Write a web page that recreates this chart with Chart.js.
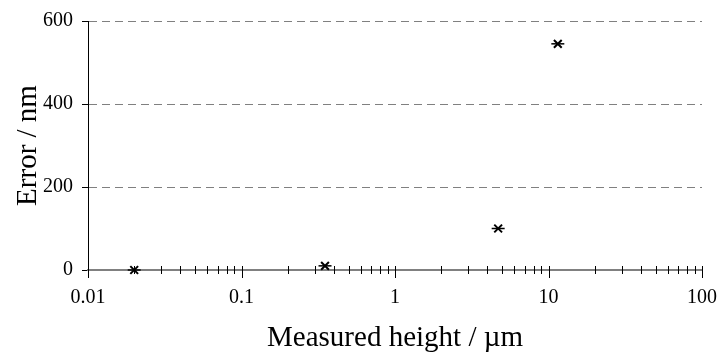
<!DOCTYPE html>
<html>
<head>
<meta charset="utf-8">
<script src="https://cdn.jsdelivr.net/npm/chart.js@4/dist/chart.umd.min.js"></script>
<style>
    html, body { margin: 0; padding: 0; background: #fff; }
    #wrap { width: 719px; height: 354px; }
</style>
</head>
<body>
<div id="wrap"><canvas id="errorChart" width="719" height="354"></canvas></div>
<script>
// data
const heights = [0.02, 0.35, 4.7, 11.5];   // measured height, µm
const errors = [0, 10, 100, 545];         // error, nm
const xMajorTicks = [0.01, 0.1, 1, 10, 100];
const yTicks = [0, 200, 400, 600];

const FONT = "'Liberation Serif', 'Times New Roman', serif";

const points = heights.map((h, i) => ({ x: h, y: errors[i] }));

// x axis: gray line with tick marks crossing it (minor) and dropping below (major)
const logTicksPlugin = {
    id: "logTicks",
    afterDraw(chart) {
        const xs = chart.scales.x;
        const ctx = chart.ctx;
        const y0 = chart.chartArea.bottom;
        ctx.save();
        ctx.strokeStyle = "#000";
        ctx.lineWidth = 1;
        for (let k = 0; k < xMajorTicks.length; k++) {
            const dec = xMajorTicks[k];
            const px = Math.round(xs.getPixelForValue(dec)) + 0.5;
            ctx.beginPath();
            ctx.moveTo(px, y0 - 4);
            ctx.lineTo(px, y0 + 8);
            ctx.stroke();
            if (k === xMajorTicks.length - 1) break;
            for (let m = 2; m <= 9; m++) {
                const mx = Math.round(xs.getPixelForValue(dec * m)) + 0.5;
                ctx.beginPath();
                ctx.moveTo(mx, y0 - 4);
                ctx.lineTo(mx, y0 + 4);
                ctx.stroke();
            }
        }
        ctx.restore();
    },
};

function drawChart(canvasID) {
    const ctx = document.getElementById(canvasID);
    return new Chart(ctx, {
        type: "scatter",
        data: {
            datasets: [
                {
                    data: points,
                    clip: false,
                    pointStyle: "crossRot",
                    pointRadius: 5.5,
                    pointBorderWidth: 2,
                    borderColor: "#000",
                    backgroundColor: "#000",
                },
                {
                    data: points,
                    clip: false,
                    pointStyle: "line",
                    pointRadius: 6.5,
                    pointBorderWidth: 1.5,
                    borderColor: "#000",
                    backgroundColor: "#000",
                },
            ],
        },
        options: {
            responsive: false,
            animation: false,
            events: [],
            layout: { padding: { top: 0, right: 17, left: 0, bottom: 1 } },
            plugins: {
                legend: { display: false },
                tooltip: { enabled: false },
            },
            scales: {
                x: {
                    type: "logarithmic",
                    min: 0.01,
                    max: 100,
                    afterBuildTicks: (scale) => {
                        scale.ticks = xMajorTicks.map((v) => ({ value: v, major: true }));
                    },
                    // invisible tick marks only reserve room; the real ones come from the plugin
                    grid: {
                        display: true,
                        drawOnChartArea: false,
                        drawTicks: true,
                        tickLength: 18,
                        tickColor: "rgba(0,0,0,0)",
                        color: "rgba(0,0,0,0)",
                    },
                    border: { display: true, color: "#808080", width: 2 },
                    ticks: {
                        autoSkip: false,
                        maxRotation: 0,
                        padding: 0,
                        color: "#000",
                        font: { family: FONT, size: 20, lineHeight: 1 },
                        callback: (v) => String(v),
                    },
                    title: {
                        display: true,
                        text: "Measured height / µm",
                        color: "#000",
                        font: { family: FONT, size: 29, lineHeight: 1 },
                        padding: { top: 16, bottom: 0 },
                    },
                },
                y: {
                    min: 0,
                    max: 600,
                    afterBuildTicks: (scale) => {
                        scale.ticks = yTicks.map((v) => ({ value: v }));
                    },
                    grid: {
                        color: (c) => (c.tick && c.tick.value === 0 ? "rgba(0,0,0,0)" : "#808080"),
                        lineWidth: 1,
                        tickColor: "#000",
                        tickLength: 6,
                        tickBorderDash: [],
                    },
                    border: { display: true, color: "#000", width: 1, dash: [8, 5] },
                    ticks: {
                        padding: 9,
                        color: "#000",
                        font: { family: FONT, size: 20 },
                    },
                    title: {
                        display: true,
                        text: "Error / nm",
                        color: "#000",
                        font: { family: FONT, size: 29, lineHeight: 1 },
                        padding: { top: 14, bottom: -9 },
                    },
                },
            },
        },
        plugins: [logTicksPlugin],
    });
}

drawChart("errorChart");
</script>
</body>
</html>
